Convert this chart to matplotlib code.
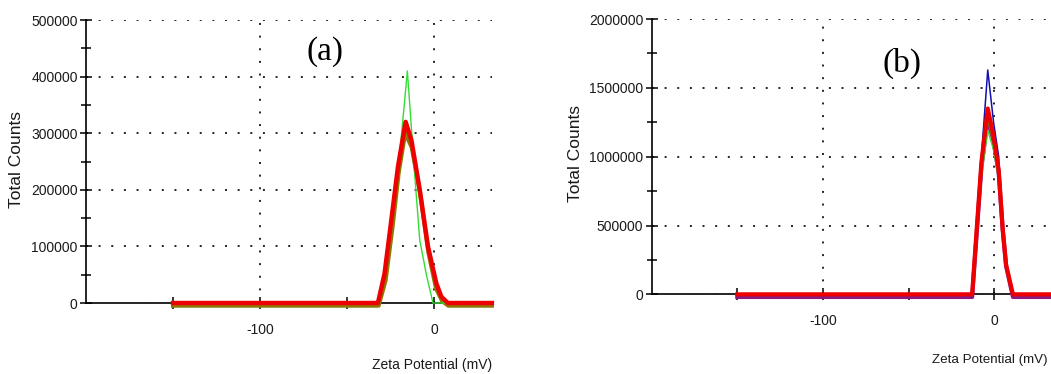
import matplotlib
matplotlib.use("Agg")
import matplotlib.pyplot as plt
from matplotlib.ticker import FixedLocator, MultipleLocator, NullFormatter, StrMethodFormatter
from matplotlib.transforms import ScaledTranslation

# ---- panel (a) data: zeta potential (mV) vs total counts ----
a_red_x = [-150, -32.4, -28.6, -24.7, -20.9, -16.5, -13.2, -8.4, -3.7, 1.1, 4.0, 7.8, 33]
a_red_y = [0, 0, 52000, 147000, 241000, 320000, 288000, 200000, 100000, 35000, 11000, 0, 0]

a_olive_x = [-150, -32.0, -28.0, -24.0, -20.5, -16.8, -13.0, -8.0, -3.5, 1.0, 4.5, 8.0, 33]
a_olive_y = [0, 0, 45000, 140000, 235000, 305000, 280000, 195000, 95000, 30000, 8000, 0, 0]

a_green_x = [-150, -31.4, -25.7, -20.9, -15.5, -11.5, -8.4, -4.6, -0.8, 33]
a_green_y = [0, 0, 100000, 230000, 410000, 235000, 111000, 50000, 0, 0]

# ---- panel (b) data ----
b_x = [-150, -13.0, -10.3, -7.6, -3.9, -0.5, 2.5, 4.8, 6.8, 10.8, 33]
b_blue = [0, 0, 500000, 1000000, 1630000, 1250000, 1000000, 500000, 225000, 0, 0]
b_red = [0, 0, 480000, 960000, 1350000, 1150000, 900000, 480000, 215000, 0, 0]
b_olive = [0, 0, 450000, 900000, 1270000, 1100000, 860000, 460000, 210000, 0, 0]
b_green = [0, 0, 420000, 860000, 1190000, 1050000, 840000, 450000, 205000, 0, 0]
b_purple = [0, 0, 470000, 940000, 1300000, 1130000, 900000, 490000, 225000, 0, 0]

x_major = [-100, 0]
x_minor = [-150, -50]
a_yticks = [0, 100000, 200000, 300000, 400000, 500000]
b_yticks = [0, 500000, 1000000, 1500000, 2000000]

plt.rcParams['font.family'] = ['Liberation Sans', 'DejaVu Sans']
plt.rcParams['axes.unicode_minus'] = False

fig = plt.figure(figsize=(10.51, 3.74), dpi=100)
ax_a = fig.add_axes([0.0818, 0.1898, 0.468 - 0.0818, 0.9465 - 0.1898])
ax_b = fig.add_axes([0.620, 0.213, 1.0 - 0.620, 0.949 - 0.213])

grid_kw = dict(color='#222222', linestyle=(0, (1, 5.5)), linewidth=1.4)


def style_axes(ax, yticks, ymax, yminor):
    ax.set_xlim(-200, 33)
    ax.set_ylim(0, ymax)
    for s in ('top', 'right'):
        ax.spines[s].set_visible(False)
    for s in ('left', 'bottom'):
        ax.spines[s].set_color('black')
        ax.spines[s].set_linewidth(1.2)
        ax.spines[s].set_zorder(1)
    ax.xaxis.set_major_locator(FixedLocator(x_major))
    ax.xaxis.set_minor_locator(FixedLocator(x_minor))
    ax.xaxis.set_minor_formatter(NullFormatter())
    ax.yaxis.set_major_locator(FixedLocator(yticks))
    ax.yaxis.set_major_formatter(StrMethodFormatter('{x:.0f}'))
    ax.yaxis.set_minor_locator(MultipleLocator(yminor))
    ax.tick_params(axis='both', which='both', direction='inout', color='black',
                   width=1.1, labelsize=10, labelcolor='#1a1a1a')
    ax.tick_params(axis='x', which='both', length=9, pad=10)
    ax.tick_params(axis='y', which='major', length=8, pad=2)
    ax.tick_params(axis='y', which='minor', length=7)
    ax.grid(True, which='major', **grid_kw)
    ax.set_facecolor('white')


style_axes(ax_a, a_yticks, 500000, 50000)
style_axes(ax_b, b_yticks, 2000000, 250000)

down = ScaledTranslation(0, -1.9 / 72, fig.dpi_scale_trans)

# panel (a) curves
ax_a.plot(a_olive_x, a_olive_y, color='#8a7a00', lw=3.0, zorder=3, clip_on=False,
          transform=ax_a.transData + down)
ax_a.plot(a_green_x, a_green_y, color='#33dd33', lw=1.0, zorder=3.5, clip_on=False)
ax_a.plot(a_red_x, a_red_y, color='#ee0000', lw=3.2, zorder=4, clip_on=False)

# panel (b) curves
ax_b.plot(b_x, b_blue, color='#1010b0', lw=1.1, zorder=3, clip_on=False)
ax_b.plot(b_x, b_purple, color='#8b1a80', lw=3.0, zorder=3.1, clip_on=False,
          transform=ax_b.transData + down)
ax_b.plot(b_x, b_green, color='#33dd33', lw=1.0, zorder=3.2, clip_on=False)
ax_b.plot(b_x, b_olive, color='#8a7a00', lw=1.2, zorder=3.3, clip_on=False)
ax_b.plot(b_x, b_red, color='#ee0000', lw=3.0, zorder=4, clip_on=False)

# axis titles
fig.text(17 / 1051, 1 - 160 / 374, 'Total Counts', rotation=90, ha='center', va='center',
         fontsize=12.5, color='#1a1a1a')
fig.text(575 / 1051, 1 - 153 / 374, 'Total Counts', rotation=90, ha='center', va='center',
         fontsize=12.5, color='#1a1a1a')
fig.text(492 / 1051, 1 - 365 / 374, 'Zeta Potential (mV)', ha='right', va='center',
         fontsize=10, color='#1a1a1a')
fig.text(1048 / 1051, 1 - 360 / 374, 'Zeta Potential (mV)', ha='right', va='center',
         fontsize=9.6, color='#1a1a1a')

# panel letters
fig.text(325 / 1051, 1 - 52 / 374, '(a)', ha='center', va='center',
         fontsize=24, family='Liberation Serif', color='black')
fig.text(902 / 1051, 1 - 63 / 374, '(b)', ha='center', va='center',
         fontsize=24, family='Liberation Serif', color='black')

fig.savefig('out.png', dpi=100, facecolor='white')
